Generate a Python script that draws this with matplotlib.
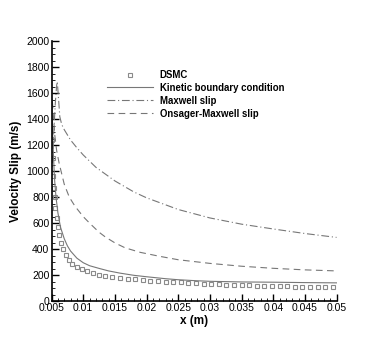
import matplotlib
matplotlib.use("Agg")
import matplotlib.pyplot as plt
from matplotlib.ticker import MultipleLocator, FixedLocator

plt.rcParams['font.family'] = ['Liberation Sans', 'DejaVu Sans']

# DSMC data
dsmc_x = [0.0051, 0.0052, 0.0053, 0.0054, 0.0055, 0.0056, 0.0058, 0.0060, 0.0062,
          0.0065, 0.0068, 0.0072, 0.0077, 0.0083, 0.0090, 0.0098, 0.0106, 0.0115,
          0.0125, 0.0135, 0.0146, 0.0158, 0.0170, 0.0182, 0.0194, 0.0206, 0.0218,
          0.0230, 0.0242, 0.0254, 0.0266, 0.0278, 0.0290, 0.0302, 0.0314, 0.0326,
          0.0338, 0.0350, 0.0362, 0.0374, 0.0386, 0.0398, 0.0410, 0.0422, 0.0434,
          0.0446, 0.0458, 0.0470, 0.0482, 0.0494]
dsmc_v = [1240, 1100, 960, 870, 800, 720, 640, 570, 510,
          450, 400, 355, 318, 288, 262, 243, 228, 214,
          203, 194, 186, 180, 173, 167, 162, 157, 153,
          150, 146, 143, 140, 137, 134, 131, 129, 127,
          125, 123, 121, 119, 117, 116, 114, 113, 111,
          110, 109, 108, 106, 105]

# Kinetic boundary condition
kin_x = [0.0050, 0.0051, 0.0052, 0.0053, 0.0054, 0.0055, 0.0057, 0.0060, 0.0064,
         0.0070, 0.0075, 0.0080, 0.0090, 0.0100, 0.0110, 0.0126, 0.0140, 0.0158,
         0.0180, 0.0200, 0.0230, 0.0250, 0.0280, 0.0300, 0.0350, 0.0400, 0.0450, 0.0500]
kin_v = [1550, 1400, 1250, 1120, 1010, 920, 800, 680, 570,
         480, 425, 385, 330, 295, 272, 250, 232, 215,
         198, 187, 172, 164, 156, 152, 147, 145, 142, 140]

# Maxwell slip
max_x = [0.0050, 0.0052, 0.0054, 0.0056, 0.0058, 0.0059, 0.0061, 0.0063, 0.0066,
         0.0070, 0.0080, 0.0090, 0.0100, 0.0120, 0.0150, 0.0180, 0.0200, 0.0250,
         0.0300, 0.0350, 0.0400, 0.0450, 0.0500]
max_v = [950, 1150, 1350, 1530, 1660, 1690, 1560, 1420, 1360,
         1320, 1240, 1180, 1125, 1030, 925, 840, 795, 705,
         640, 592, 555, 520, 490]

# Onsager-Maxwell slip
ons_x = [0.0050, 0.0051, 0.0053, 0.0055, 0.0058, 0.0062, 0.0070, 0.0078, 0.0087,
         0.0100, 0.0110, 0.0125, 0.0135, 0.0150, 0.0166, 0.0190, 0.0220, 0.0250,
         0.0300, 0.0350, 0.0400, 0.0450, 0.0500]
ons_v = [1500, 1560, 1420, 1280, 1160, 1060, 900, 800, 730,
         650, 600, 530, 493, 448, 410, 375, 345, 318,
         290, 268, 252, 240, 232]

xticks = [0.005, 0.01, 0.015, 0.02, 0.025, 0.03, 0.035, 0.04, 0.045, 0.05]
xticklabels = ["0.005", "0.01", "0.015", "0.02", "0.025", "0.03", "0.035", "0.04", "0.045", "0.05"]
yticks = [0, 200, 400, 600, 800, 1000, 1200, 1400, 1600, 1800, 2000]

fig = plt.figure(figsize=(3.82, 3.39), dpi=100)
ax = fig.add_axes([0.135, 0.112, 0.746, 0.766])

gray = '#777777'
ax.plot(dsmc_x, dsmc_v, linestyle='none', marker='s', markersize=3.2,
        markerfacecolor='none', markeredgecolor='#8a8a8a', markeredgewidth=0.8, label='DSMC')
ax.plot(kin_x, kin_v, color=gray, linewidth=0.8, label='Kinetic boundary condition')
ax.plot(max_x, max_v, color=gray, linewidth=0.8, dashes=(7, 2.5, 1, 2.5), label='Maxwell slip')
ax.plot(ons_x, ons_v, color=gray, linewidth=0.8, dashes=(6, 4), label='Onsager-Maxwell slip')

ax.set_xlim(0.005, 0.05)
ax.set_ylim(0, 2000)
ax.xaxis.set_major_locator(FixedLocator(xticks))
ax.set_xticklabels(xticklabels)
ax.xaxis.set_minor_locator(MultipleLocator(0.001))
ax.yaxis.set_major_locator(FixedLocator(yticks))
ax.yaxis.set_minor_locator(MultipleLocator(50))

for s in ['top', 'right']:
    ax.spines[s].set_visible(False)
for s in ['left', 'bottom']:
    ax.spines[s].set_linewidth(1.2)

ax.tick_params(which='major', direction='in', length=5, width=1.0, labelsize=7.5, pad=1.5)
ax.tick_params(which='minor', direction='in', length=2.5, width=0.6)

ax.set_xlabel('x (m)', fontsize=8.5, fontweight='bold', labelpad=1)
ax.set_ylabel('Velocity Slip (m/s)', fontsize=8.5, fontweight='bold', labelpad=3)

leg = ax.legend(loc='upper left', bbox_to_anchor=(0.194, 0.89), frameon=False,
                borderpad=0, borderaxespad=0, handlelength=4.8, handletextpad=0.73,
                labelspacing=0.3, prop={'size': 6.9, 'weight': 'bold'})

fig.savefig('out.png', dpi=100)
